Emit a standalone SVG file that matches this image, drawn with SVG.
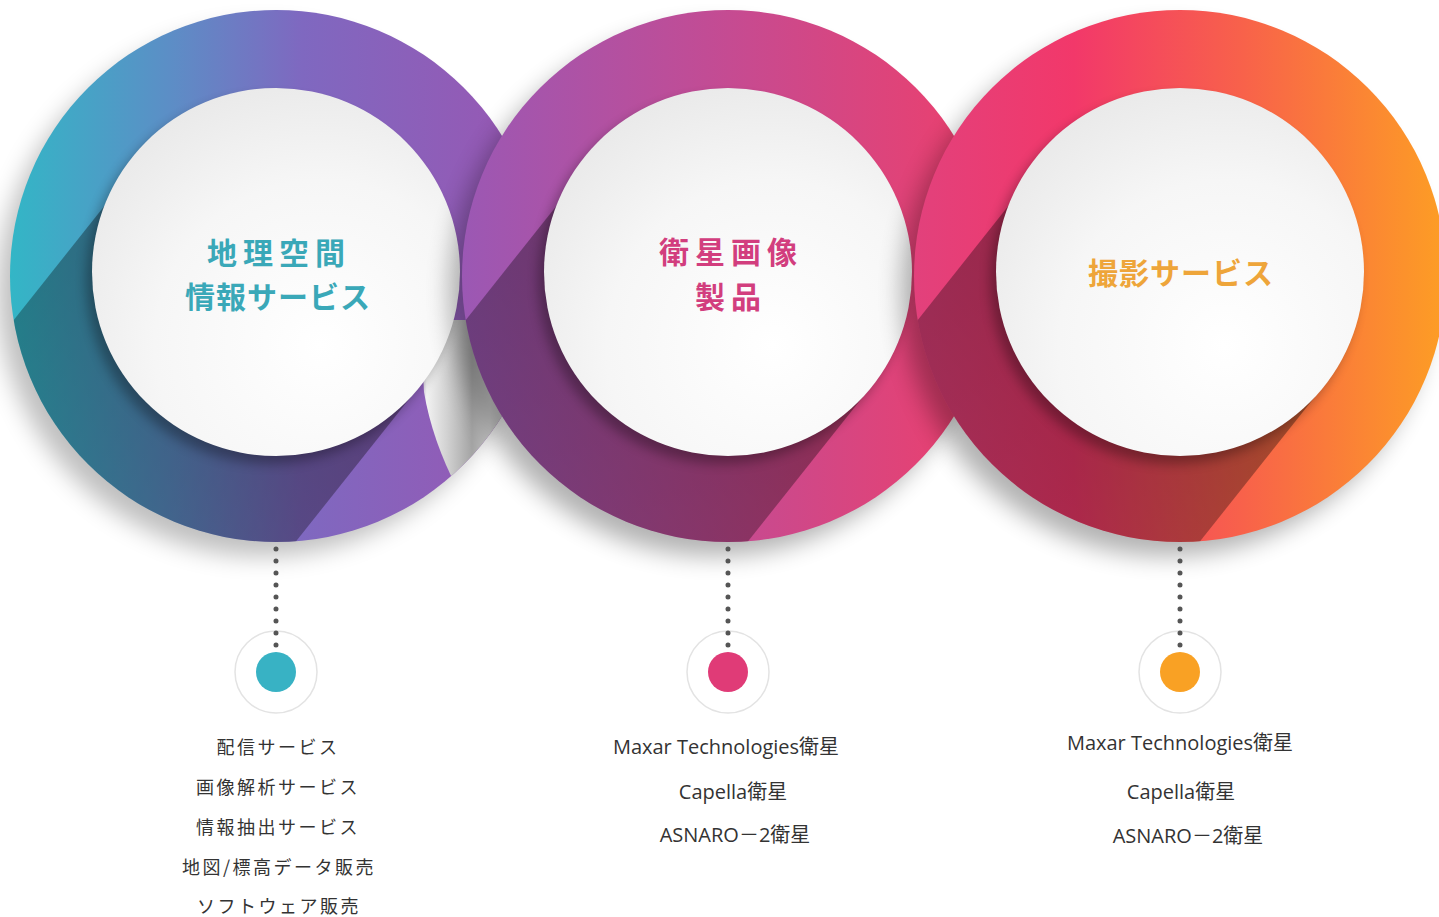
<svg xmlns="http://www.w3.org/2000/svg" width="1439" height="917" viewBox="0 0 1439 917">
<style>
.h{font-family:"Noto Sans CJK JP","Noto Sans CJK SC",sans-serif;font-weight:700;font-size:30px;text-anchor:middle}
.l{font-family:"Noto Sans CJK JP","Noto Sans CJK SC",sans-serif;font-size:18px;fill:#333;text-anchor:middle;letter-spacing:2.5px}
.m{font-family:"Open Sans","Noto Sans CJK JP",sans-serif;font-size:20px;fill:#333;text-anchor:middle}
.plate{fill:url(#plate)}
.lsh{fill:url(#lsh)}
.dots{stroke:#555;stroke-width:5;stroke-linecap:round;stroke-dasharray:0 12;fill:none}
.halo{fill:#fff;stroke:#e3e3e3;stroke-width:1.5}
</style>
<defs>
<linearGradient id="g1" gradientUnits="userSpaceOnUse" x1="10" y1="0" x2="542" y2="0">
<stop offset="0" stop-color="#33b6c6"/><stop offset="0.3" stop-color="#5c8ec6"/><stop offset="0.55" stop-color="#7f68c0"/><stop offset="1" stop-color="#9a56b2"/>
</linearGradient>
<linearGradient id="g2" gradientUnits="userSpaceOnUse" x1="462" y1="0" x2="994" y2="0">
<stop offset="0" stop-color="#9b58b4"/><stop offset="0.5" stop-color="#c54b92"/><stop offset="1" stop-color="#ee3f6b"/>
</linearGradient>
<linearGradient id="g3" gradientUnits="userSpaceOnUse" x1="914" y1="0" x2="1446" y2="0">
<stop offset="0" stop-color="#e2417c"/><stop offset="0.3" stop-color="#f2386a"/><stop offset="0.62" stop-color="#f8624a"/><stop offset="1" stop-color="#fd9e24"/>
</linearGradient>
<radialGradient id="plate" cx="0.62" cy="0.7" r="0.75">
<stop offset="0" stop-color="#ffffff"/><stop offset="0.6" stop-color="#f6f6f6"/><stop offset="1" stop-color="#e9e9e9"/>
</radialGradient>
<linearGradient id="lsh" x1="0.7" y1="0.2" x2="0.2" y2="0.9">
<stop offset="0" stop-color="#000" stop-opacity="0.36"/><stop offset="1" stop-color="#000" stop-opacity="0.24"/>
</linearGradient>
<linearGradient id="hl" gradientUnits="userSpaceOnUse" x1="418" y1="0" x2="490" y2="0">
<stop offset="0" stop-color="#b9a5cc"/><stop offset="0.12" stop-color="#f2f2f2"/><stop offset="0.4" stop-color="#d2d2d2"/><stop offset="0.75" stop-color="#a4a4a4"/><stop offset="1" stop-color="#c8c8c8"/>
</linearGradient>
<filter id="blur" x="-30%" y="-30%" width="160%" height="160%"><feGaussianBlur stdDeviation="12"/></filter>
<filter id="blur2" x="-30%" y="-30%" width="160%" height="160%"><feGaussianBlur stdDeviation="6"/></filter>
<clipPath id="c1"><circle cx="276" cy="276" r="266"/></clipPath>
<clipPath id="c2"><circle cx="728" cy="276" r="266"/></clipPath>
<clipPath id="c3"><circle cx="1180" cy="276" r="266"/></clipPath>
</defs>

<g id="node1">
<circle cx="262" cy="292" r="264" fill="#000" opacity="0.25" filter="url(#blur)"/>
<circle cx="276" cy="276" r="266" fill="url(#g1)"/>
<polygon class="lsh" clip-path="url(#c1)" points="142.5,158 -105.5,470 171.5,698 419.5,386"/>
<path clip-path="url(#c1)" fill="url(#hl)" d="M420 320 L424 392 Q432 440 458 490 L545 490 L545 320 Z"/>
<circle cx="270" cy="280" r="184" fill="#000" opacity="0.3" filter="url(#blur2)"/>
<circle class="plate" cx="276" cy="272" r="184"/>
<text class="h" fill="#3aa8b8" x="279" y="264" letter-spacing="6">地理空間</text>
<text class="h" fill="#3aa8b8" x="278" y="308" letter-spacing="1">情報サービス</text>
</g>

<g id="node2">
<circle cx="714" cy="292" r="264" fill="#000" opacity="0.3" filter="url(#blur)"/>
<circle cx="728" cy="276" r="266" fill="url(#g2)"/>
<polygon class="lsh" clip-path="url(#c2)" points="594.5,158 346.5,470 623.5,698 871.5,386"/>
<circle cx="722" cy="280" r="184" fill="#000" opacity="0.3" filter="url(#blur2)"/>
<circle class="plate" cx="728" cy="272" r="184"/>
<text class="h" fill="#d23e7e" x="731" y="263" letter-spacing="6">衛星画像</text>
<text class="h" fill="#d23e7e" x="731" y="308" letter-spacing="6">製品</text>
</g>

<g id="node3">
<circle cx="1166" cy="292" r="264" fill="#000" opacity="0.3" filter="url(#blur)"/>
<circle cx="1180" cy="276" r="266" fill="url(#g3)"/>
<polygon class="lsh" clip-path="url(#c3)" points="1046.5,158 798.5,470 1075.5,698 1323.5,386"/>
<circle cx="1174" cy="280" r="184" fill="#000" opacity="0.3" filter="url(#blur2)"/>
<circle class="plate" cx="1180" cy="272" r="184"/>
<text class="h" fill="#eea53a" x="1181" y="284" letter-spacing="1">撮影サービス</text>
</g>

<g id="connectors">
<circle class="halo" cx="276" cy="672" r="41"/>
<circle class="halo" cx="728" cy="672" r="41"/>
<circle class="halo" cx="1180" cy="672" r="41"/>
<line class="dots" x1="276" y1="549" x2="276" y2="646"/>
<line class="dots" x1="728" y1="549" x2="728" y2="646"/>
<line class="dots" x1="1180" y1="549" x2="1180" y2="646"/>
</g>

<g id="dot1"><circle cx="276" cy="672" r="20" fill="#38b2c4"/></g>
<g id="dot2"><circle cx="728" cy="672" r="20" fill="#e03b77"/></g>
<g id="dot3"><circle cx="1180" cy="672" r="20" fill="#f9a124"/></g>

<g id="list1">
<text class="l" x="278" y="754">配信サービス</text>
<text class="l" x="278" y="794">画像解析サービス</text>
<text class="l" x="278" y="834">情報抽出サービス</text>
<text class="l" x="279" y="874">地図/標高データ販売</text>
<text class="l" x="279" y="913">ソフトウェア販売</text>
</g>
<g id="list2">
<text class="m" x="726" y="754">Maxar Technologies衛星</text>
<text class="m" x="733" y="799">Capella衛星</text>
<text class="m" x="735" y="842">ASNARO－2衛星</text>
</g>
<g id="list3">
<text class="m" x="1180" y="750">Maxar Technologies衛星</text>
<text class="m" x="1181" y="799">Capella衛星</text>
<text class="m" x="1188" y="843">ASNARO－2衛星</text>
</g>
</svg>
